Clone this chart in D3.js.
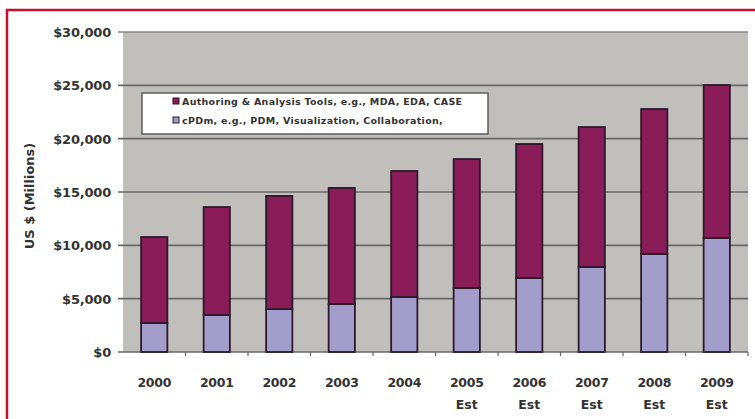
<!DOCTYPE html>
<html>
<head>
<meta charset="utf-8">
<script src="https://cdn.jsdelivr.net/npm/d3@7"></script>
<style>
  body { margin: 0; background: #fff; }
  text { font-family: "DejaVu Sans", Verdana, sans-serif; font-weight: bold; fill: #333; }
</style>
</head>
<body>
<div id="chart"></div>
<script>
var years = ["2000", "2001", "2002", "2003", "2004", "2005", "2006", "2007", "2008", "2009"];
var estimated = ["2005", "2006", "2007", "2008", "2009"];
var cpdmValues = [2720, 3470, 4030, 4500, 5160, 6000, 6940, 7970, 9190, 10690];
var authoringValues = [8060, 10120, 10600, 10880, 11810, 12090, 12560, 13120, 13590, 14340];
var yTicks = [0, 5000, 10000, 15000, 20000, 25000, 30000];
var seriesNames = ["Authoring & Analysis Tools, e.g., MDA, EDA, CASE", "cPDm, e.g., PDM, Visualization, Collaboration,"];

var W = 755, H = 419;
var plotLeft = 123, plotRight = 748, plotTop = 32, plotBottom = 352;

var svg = d3.select("#chart").append("svg").attr("width", W).attr("height", H);

// red frame
svg.append("line").attr("x1", 6).attr("x2", W).attr("y1", 10).attr("y2", 10)
  .style("stroke", "#c8102e").style("stroke-width", 2.5);
svg.append("line").attr("x1", 7).attr("x2", 7).attr("y1", 9).attr("y2", H)
  .style("stroke", "#c8102e").style("stroke-width", 2.5);

var x = d3.scaleBand().domain(years).range([plotLeft, plotRight]).paddingInner(0.58).paddingOuter(0.29);
var xs = d3.scaleBand().domain(years).range([plotLeft, plotRight]);
var y = d3.scaleLinear().domain([0, 30000]).range([plotBottom, plotTop]);

// plot background
svg.append("rect").attr("x", plotLeft).attr("y", plotTop).attr("width", plotRight - plotLeft).attr("height", plotBottom - plotTop)
  .style("fill", "#c1bfbc");

// grid lines
svg.selectAll("grid_line")
  .data(yTicks)
  .enter()
  .append("line")
  .attr("x1", plotLeft - 5)
  .attr("x2", plotRight)
  .attr("y1", function (d) { return y(d); })
  .attr("y2", function (d) { return y(d); })
  .style("stroke", function (d) { return d == 30000 ? "#858585" : "#686868"; })
  .style("stroke-width", 1.6);

// y labels
svg.selectAll("y_label")
  .data(yTicks)
  .enter()
  .append("text")
  .attr("x", 111)
  .attr("y", function (d) { return y(d) + 5; })
  .attr("text-anchor", "end")
  .style("font-size", "13px")
  .style("letter-spacing", "-0.2px")
  .text(function (d) { return "$" + d3.format(",")(d); });

svg.append("text")
  .attr("transform", "translate(34,196) rotate(-90)")
  .attr("text-anchor", "middle")
  .style("font-size", "13px")
  .text("US $ (Millions)");

// x ticks between categories
svg.selectAll("x_tick")
  .data(years)
  .enter()
  .append("line")
  .attr("x1", function (d) { return xs(d) + xs.bandwidth(); })
  .attr("x2", function (d) { return xs(d) + xs.bandwidth(); })
  .attr("y1", plotBottom)
  .attr("y2", plotBottom + 4)
  .style("stroke", "#686868")
  .style("stroke-width", 1.2);

// bars
var bars = svg.append("g");
bars.selectAll("cpdm_bar")
  .data(years)
  .enter()
  .append("rect")
  .attr("x", function (d) { return x(d); })
  .attr("y", function (d, i) { return y(cpdmValues[i]); })
  .attr("width", x.bandwidth())
  .attr("height", function (d, i) { return y(0) - y(cpdmValues[i]); })
  .style("fill", "#a39dcb")
  .style("stroke", "#2b1a2a")
  .style("stroke-width", 1.8);
bars.selectAll("auth_bar")
  .data(years)
  .enter()
  .append("rect")
  .attr("x", function (d) { return x(d); })
  .attr("y", function (d, i) { return y(cpdmValues[i] + authoringValues[i]); })
  .attr("width", x.bandwidth())
  .attr("height", function (d, i) { return y(cpdmValues[i]) - y(cpdmValues[i] + authoringValues[i]); })
  .style("fill", "#8a1d57")
  .style("stroke", "#2b1a2a")
  .style("stroke-width", 1.8);

// x labels
svg.selectAll("x_label")
  .data(years)
  .enter()
  .append("text")
  .attr("x", function (d) { return x(d) + x.bandwidth() / 2; })
  .attr("y", 387)
  .attr("text-anchor", "middle")
  .style("font-size", "12.5px")
  .style("letter-spacing", "-0.3px")
  .text(function (d) { return d; });
svg.selectAll("est_label")
  .data(estimated)
  .enter()
  .append("text")
  .attr("x", function (d) { return x(d) + x.bandwidth() / 2; })
  .attr("y", 409)
  .attr("text-anchor", "middle")
  .style("font-size", "12.5px")
  .text("Est");

// legend
var lg = svg.append("g");
lg.append("rect").attr("x", 142).attr("y", 93).attr("width", 346).attr("height", 41)
  .style("fill", "#fff").style("stroke", "#555").style("stroke-width", 1.4);
lg.selectAll("legend_swatch")
  .data(seriesNames)
  .enter()
  .append("rect")
  .attr("x", 173)
  .attr("y", function (d, i) { return 98 + i * 19; })
  .attr("width", 6)
  .attr("height", 6)
  .style("fill", function (d, i) { return i == 0 ? "#8a1d57" : "#a39dcb"; })
  .style("stroke", "#2b1a2a")
  .style("stroke-width", 1);
lg.selectAll("legend_text")
  .data(seriesNames)
  .enter()
  .append("text")
  .attr("x", 182)
  .attr("y", function (d, i) { return 105 + i * 19; })
  .style("font-size", "9.5px")
  .style("letter-spacing", "0.3px")
  .text(function (d) { return d; });
</script>
</body>
</html>
